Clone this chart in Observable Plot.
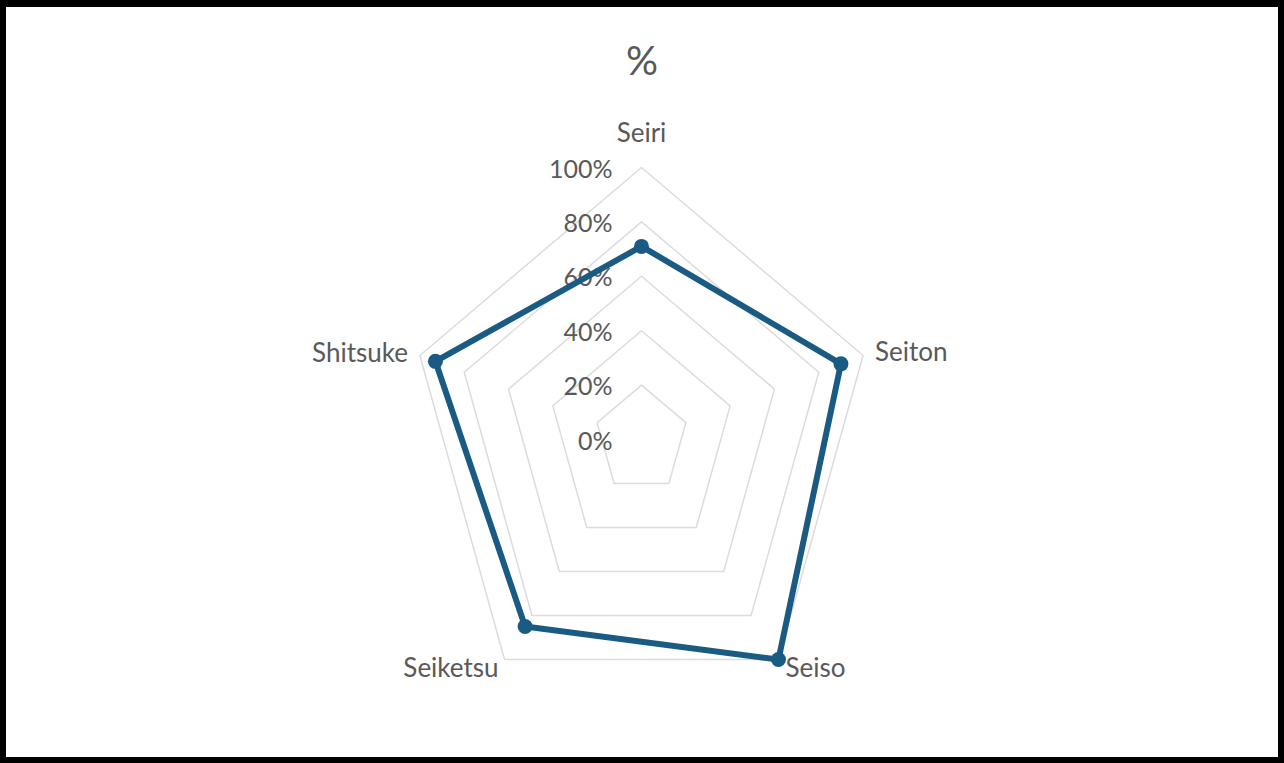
<!DOCTYPE html>
<html>
<head>
<meta charset="utf-8">
<script src="https://cdn.jsdelivr.net/npm/d3@7"></script>
<script src="https://cdn.jsdelivr.net/npm/@observablehq/plot@0.6"></script>
<style>
  html, body { margin: 0; padding: 0; background: #000; width: 1284px; height: 763px; overflow: hidden; }
  #box { position: absolute; left: 6px; top: 7px; width: 1272px; height: 750px; background: #fff; }
  #title { height: 106px; line-height: 106px; text-align: center; font-family: Lato, sans-serif; font-size: 40px; color: #595959; }
  #chart svg { display: block; }
</style>
</head>
<body>
<div id="box">
  <div id="title">%</div>
  <div id="chart"></div>
</div>
<script>
// ---- data ----
const categories = ["Seiri", "Seiton", "Seiso", "Seiketsu", "Shitsuke"];
const values = [0.71, 0.90, 1.00, 0.85, 0.93];
const levels = [0, 0.2, 0.4, 0.6, 0.8, 1.0];
const levelLabels = ["0%", "20%", "40%", "60%", "80%", "100%"];

// ---- geometry helpers ----
const n = categories.length;
const ang = i => (i % n) * 2 * Math.PI / n;
const px = (r, i) => r * Math.sin(ang(i));
const py = (r, i) => r * Math.cos(ang(i));

const W = 1272, H = 644;
const cx = 635, cy = 326;   // centre in svg pixels
const sx = 233, sy = 272;   // pixels per 100%

const rings = [];
levels.filter(l => l > 0).forEach(l => {
  for (let i = 0; i < n; i++) rings.push({level: l, x: px(l, i), y: py(l, i)});
});
const series = categories.map((c, i) => ({cat: c, x: px(values[i], i), y: py(values[i], i)}));
const labelPts = categories.map((c, i) => ({cat: c, i, x: px(1, i), y: py(1, i)}));
const ticks = levels.map((l, k) => ({label: levelLabels[k], x: 0, y: l}));

const font = "Lato, sans-serif";
const gray = "#595959";
const lineColor = "#1a5b83";

const lab = (idx, opts) => Plot.text(labelPts.filter(d => idx.includes(d.i)), {
  x: "x", y: "y", text: "cat", fill: gray, fontSize: 26, fontFamily: font, ...opts
});

const chart = Plot.plot({
  width: W, height: H,
  margin: 0,
  x: {domain: [-cx / sx, (W - cx) / sx], range: [0, W], axis: null},
  y: {domain: [(cy - H) / sy, cy / sy], range: [H, 0], axis: null},
  marks: [
    Plot.line(rings, {x: "x", y: "y", z: "level", curve: "linear-closed", stroke: "#dcdcdc", strokeWidth: 1.5}),
    Plot.text(ticks, {x: "x", y: "y", text: "label", textAnchor: "end", dx: -29, dy: 2, fill: gray, fontSize: 25, fontFamily: font}),
    Plot.line(series, {x: "x", y: "y", curve: "linear-closed", stroke: lineColor, strokeWidth: 6, strokeLinejoin: "round"}),
    Plot.dot(series, {x: "x", y: "y", r: 7.5, fill: lineColor, stroke: "none"}),
    lab([0], {textAnchor: "middle", dy: -34}),
    lab([1], {textAnchor: "start", dx: 12, dy: -3}),
    lab([4], {textAnchor: "end", dx: -12, dy: -2}),
    lab([2], {textAnchor: "start", dx: 7, dy: 9}),
    lab([3], {textAnchor: "end", dx: -6, dy: 9})
  ]
});
document.getElementById("chart").appendChild(chart);
</script>
</body>
</html>
